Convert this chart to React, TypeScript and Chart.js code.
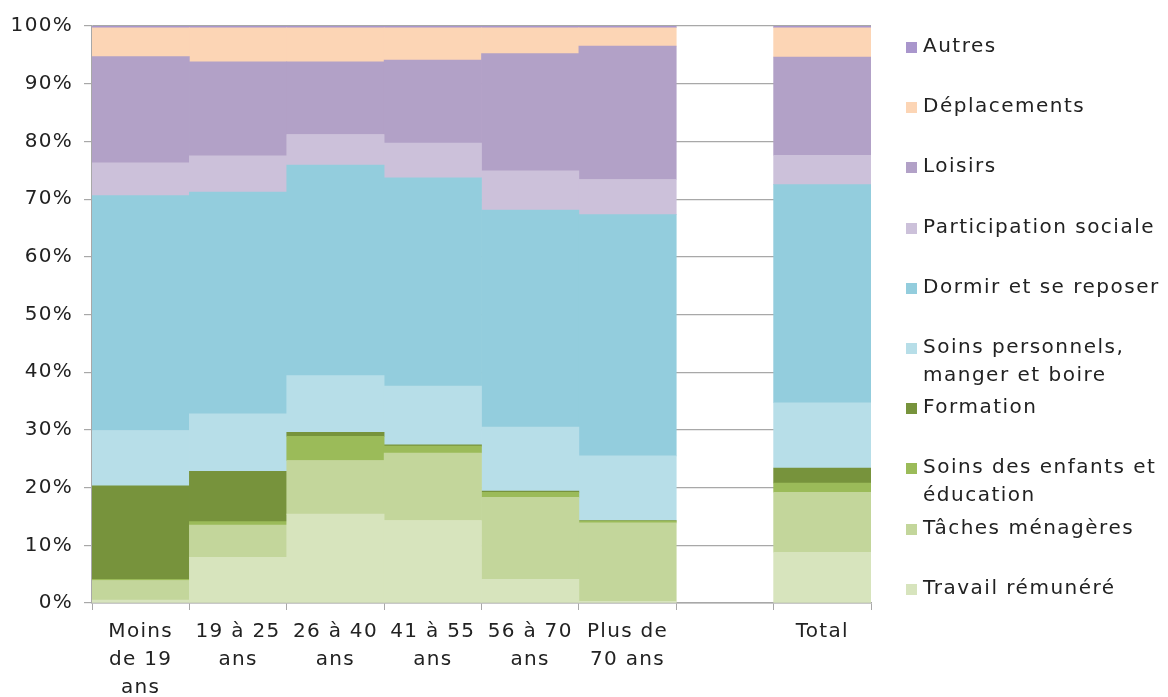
import React, { useEffect, useRef } from "react";
import { Chart, registerables } from "chart.js";

Chart.register(...registerables);

const categories: (string | string[])[] = [
  ["Moins", "de 19", "ans"],
  ["19 à 25", "ans"],
  ["26 à 40", "ans"],
  ["41 à 55", "ans"],
  ["56 à 70", "ans"],
  ["Plus de", "70 ans"],
  "",
  "Total",
];

const travailRemunere = [0.5, 7.9, 15.4, 14.3, 4.1, 0.3, null, 8.8];
const tachesMenageres = [3.4, 5.6, 9.3, 11.7, 14.2, 13.6, null, 10.4];
const soinsEnfants = [0.2, 0.6, 4.2, 1.2, 0.9, 0.3, null, 1.6];
const formation = [16.2, 8.7, 0.7, 0.2, 0.2, 0.1, null, 2.6];
const soinsPersonnels = [9.6, 10.0, 9.8, 10.2, 11.1, 11.2, null, 11.3];
const dormir = [40.7, 38.4, 36.5, 36.1, 37.6, 41.8, null, 37.8];
const participationSociale = [5.7, 6.3, 5.3, 6.0, 6.8, 6.1, null, 5.1];
const loisirs = [18.4, 16.3, 12.6, 14.4, 20.3, 23.1, null, 17.0];
const deplacements = [5.0, 5.9, 5.9, 5.6, 4.5, 3.2, null, 5.1];
const autres = [0.3, 0.3, 0.3, 0.3, 0.3, 0.3, null, 0.3];

const yTicks = [0, 10, 20, 30, 40, 50, 60, 70, 80, 90, 100];

// bottom to top
const series = [
  { label: ["Travail rémunéré"], data: travailRemunere, color: "#d7e4bd" },
  { label: ["Tâches ménagères"], data: tachesMenageres, color: "#c3d69b" },
  { label: ["Soins des enfants et", "éducation"], data: soinsEnfants, color: "#9bbb59" },
  { label: ["Formation"], data: formation, color: "#77933c" },
  { label: ["Soins personnels,", "manger et boire"], data: soinsPersonnels, color: "#b7dee8" },
  { label: ["Dormir et se reposer"], data: dormir, color: "#93cddd" },
  { label: ["Participation sociale"], data: participationSociale, color: "#ccc1da" },
  { label: ["Loisirs"], data: loisirs, color: "#b2a1c7" },
  { label: ["Déplacements"], data: deplacements, color: "#fcd5b5" },
  { label: ["Autres"], data: autres, color: "#a996cc" },
];

const FONT = "'DejaVu Sans', sans-serif";
const TEXT = "#222222";
const GRID = "#a8a8a8";

const W = 1168;
const H = 697;

export default function App() {
  const ref = useRef<HTMLCanvasElement | null>(null);

  useEffect(() => {
    if (!ref.current) return;
    const spacing = {
      id: "spacing",
      beforeDraw(chart: any) {
        (chart.ctx as any).letterSpacing = "1.3px";
      },
    };
    const chart = new Chart(ref.current, {
      type: "bar",
      data: {
        labels: categories as any,
        datasets: series.map((s) => ({
          label: s.label.join(" "),
          data: s.data as any,
          backgroundColor: s.color,
          borderWidth: 0,
          barPercentage: 1,
          categoryPercentage: 1,
        })),
      },
      options: {
        animation: false,
        responsive: false,
        maintainAspectRatio: false,
        layout: { padding: { top: 26, right: W - 871, left: 0, bottom: 0 } },
        plugins: { legend: { display: false }, tooltip: { enabled: false } },
        scales: {
          x: {
            stacked: true,
            grid: {
              display: true,
              drawOnChartArea: false,
              drawTicks: true,
              tickLength: 7,
              color: GRID,
              offset: true,
            },
            border: { display: true, color: GRID, width: 1.5 },
            ticks: {
              autoSkip: false,
              maxRotation: 0,
              minRotation: 0,
              padding: 8,
              color: TEXT,
              font: { family: FONT, size: 20, lineHeight: 1.4 },
            },
            afterFit(scale: any) {
              scale.height = H - 603;
            },
          },
          y: {
            stacked: true,
            min: 0,
            max: 100,
            afterBuildTicks(scale: any) {
              scale.ticks = yTicks.map((v) => ({ value: v }));
            },
            grid: {
              color: GRID,
              lineWidth: 1.2,
              drawTicks: true,
              tickLength: 8,
            },
            border: { display: true, color: GRID, width: 1.5 },
            ticks: {
              padding: 11,
              color: TEXT,
              font: { family: FONT, size: 20, lineHeight: 1.4 },
              callback: (v: any) => v + "%",
            },
            afterFit(scale: any) {
              scale.width = 92;
            },
          },
        },
      },
      plugins: [spacing],
    });
    return () => chart.destroy();
  }, []);

  const legendItems = [...series].reverse();

  return (
    <div style={{ position: "relative", width: W, height: H, overflow: "hidden" }}>
      <style>{"html,body{margin:0;padding:0;overflow:hidden}"}</style>
      <canvas
        ref={ref}
        width={W}
        height={H}
        style={{ display: "block", position: "absolute", left: 0, top: 0 }}
      />
      {legendItems.map((s, i) => {
        const center = 45 + i * 60.2;
        return (
          <div key={i}>
            <div
              style={{
                position: "absolute",
                left: 906,
                top: center - 3,
                width: 11,
                height: 11,
                background: s.color,
              }}
            />
            <div
              style={{
                position: "absolute",
                left: 923,
                top: center - 14,
                fontFamily: FONT,
                fontSize: 20,
                letterSpacing: "1.5px",
                lineHeight: "28px",
                color: TEXT,
                whiteSpace: "nowrap",
              }}
            >
              {s.label.map((l, j) => (
                <div key={j}>{l}</div>
              ))}
            </div>
          </div>
        );
      })}
    </div>
  );
}
